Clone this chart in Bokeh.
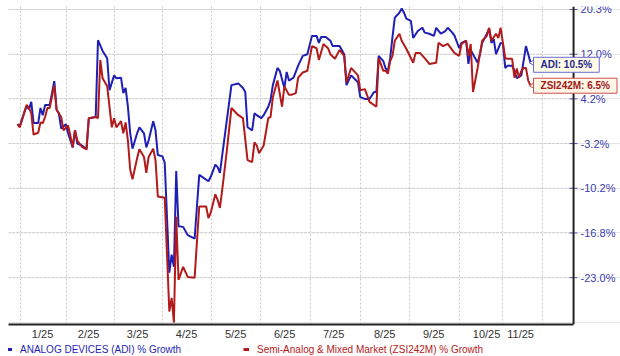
import numpy as np
from bokeh.plotting import figure
from bokeh.layouts import column
from bokeh.models import FixedTicker, Legend, LegendItem, Label, Range1d, Span
from bokeh.core.properties import value
from bokeh.embed import file_html
from bokeh.resources import INLINE

# ---- axis definitions -------------------------------------------------
tick_values = [-23.0, -16.8, -10.2, -3.2, 4.2, 12.0, 20.3]
tick_labels = ["-23.0%", "-16.8%", "-10.2%", "-3.2%", "4.2%", "12.0%", "20.3%"]
month_labels = ["1/25", "2/25", "3/25", "4/25", "5/25", "6/25", "7/25", "8/25", "9/25", "10/25", "11/25"]
month_label_pos = [10.9, 30.9, 52.2, 73.5, 94.8, 116.1, 137.4, 159.6, 180.9, 203.9, 218.7]
month_edges = [1.4, 21.3, 42.2, 63.0, 84.3, 105.7, 127.4, 149.1, 170.4, 192.2, 210.9, 228.3]
x_start, x_axis_end, x_view_end = -3.9, 241.7, 262.1

# ---- ANALOG DEVICES (ADI) % growth -------------------------------------
adi_day = ([0, 1, 3, 4, 5, 6, 7, 9, 10, 11, 12, 14, 15, 16, 17, 18, 19]
           + [21, 22, 24, 25, 26, 28, 30, 31, 34, 35, 37, 39, 40]
           + [42, 43, 45, 46, 47, 48, 49, 50, 52, 53, 55, 56, 57, 59, 60, 61]
           + [63, 64, 66, 67, 68, 69, 70, 72, 74, 77, 79, 83]
           + [84, 86, 87, 88, 89, 91, 93, 96, 98, 99, 100, 102, 103, 104]
           + [106, 107, 109, 110, 111, 113, 114, 116, 117, 118, 120, 122, 124, 126]
           + [128, 130, 131, 132, 134, 136, 137, 140, 142, 143, 145, 148]
           + [149, 151, 153, 155, 156, 157, 159, 160, 161, 162, 163, 164, 166, 167, 168, 169]
           + [171, 172, 174, 176, 177, 179, 181, 182, 184, 186, 187, 189, 190]
           + [192, 193, 195, 196, 197, 200, 201, 202, 204, 205, 206, 207, 208, 210]
           + [211, 212, 213, 215, 216, 217, 219, 221, 222, 223])
adi_pct = ([0.0, -0.3, 2.0, 3.0, 2.5, 3.7, 0.2, 0.2, 2.7, 1.5, 3.2, 3.2, 5.2, 7.3, 2.4, 1.8, -0.7]
           + [0.0, -1.5, -3.8, -1.0, -3.2, -3.5, -4.1, 1.0, 1.2, 14.6, 12.6, 11.3, 5.7]
           + [8.3, 7.8, 7.9, 5.2, 6.1, 2.9, -1.5, -4.0, -1.5, -0.5, -1.5, -3.8, -2.7, 0.5, -1.0, -5.0]
           + [-5.2, -6.2, -22.3, -19.8, -21.5, -7.5, -15.8, -15.9, -17.1, -17.6, -8.1, -9.1]
           + [-8.4, -6.5, -6.9, -7.8, -5.0, 0.7, 6.6, 6.9, 6.1, 5.4, -0.5, -1.0, 1.8, 1.5]
           + [1.0, 1.5, 2.9, 4.0, 6.6, 9.6, 9.1, 6.1, 8.9, 7.4, 7.9, 10.0, 11.7, 12.0]
           + [15.4, 15.4, 14.1, 15.2, 15.2, 14.5, 13.5, 13.5, 12.0, 6.6, 8.3, 7.1]
           + [4.5, 4.2, 4.2, 5.4, 5.4, 11.7, 10.8, 9.5, 9.1, 11.3, 15.2, 18.8, 19.7, 20.5, 19.7, 18.6]
           + [18.2, 15.0, 16.3, 16.9, 16.0, 15.8, 15.4, 16.9, 15.8, 16.3, 16.9, 16.0, 15.4]
           + [13.1, 14.1, 14.5, 10.3, 12.8, 10.5, 12.0, 14.1, 15.8, 16.7, 14.1, 14.8, 12.0, 14.1]
           + [13.9, 9.6, 10.0, 10.0, 9.1, 7.8, 8.3, 13.5, 12.0, 10.5])

# ---- Semi-Analog & Mixed Market (ZSI242M) % growth ----------------------
zsi_day = ([0, 1, 3, 4, 5, 6, 7, 9, 10, 11, 12, 13, 14, 16, 17, 19, 20]
           + [22, 23, 24, 25, 26, 28, 30, 31, 34, 35, 36, 37, 39, 41]
           + [42, 43, 45, 46, 47, 48, 49, 50, 52, 53, 55, 56, 57, 59, 60, 61]
           + [64, 66, 67, 68, 69, 70, 72, 74, 77, 79, 82, 83]
           + [84, 86, 87, 88, 89, 91, 93, 96, 98, 100, 102, 103, 104, 105]
           + [107, 109, 110, 111, 113, 115, 116, 118, 119, 121, 122, 124, 126]
           + [128, 130, 131, 133, 135, 136, 138, 140, 142, 143, 145, 148]
           + [149, 151, 153, 156, 157, 159, 160, 161, 162, 163, 164, 166, 167, 169]
           + [172, 173, 175, 177, 179, 182, 183, 185, 187, 190]
           + [192, 193, 195, 196, 197, 198, 200, 201, 202, 204, 205, 206, 208, 209, 210]
           + [212, 213, 215, 216, 217, 218, 219, 220, 221, 222, 223])
zsi_pct = ([0.0, -0.5, 2.0, 3.2, 2.7, 1.8, -1.7, -1.4, 0.3, 0.2, 1.2, 2.7, 2.7, 6.6, 2.4, 1.2, -1.0]
           + [-0.2, -1.9, -3.8, -1.0, -2.7, -3.7, -4.1, 1.0, 1.2, 1.0, 11.0, 7.8, 6.4, -0.5]
           + [1.0, -0.5, 0.5, -1.5, 0.3, -2.7, -7.3, -8.8, -5.5, -4.1, -5.3, -7.8, -5.3, -4.0, -5.8, -11.4]
           + [-11.6, -27.7, -25.8, -29.2, -14.4, -23.3, -21.5, -22.9, -23.0, -12.9, -12.9, -14.6]
           + [-13.8, -11.1, -11.9, -13.1, -10.4, -4.3, 2.7, 1.5, 1.0, -5.8, -6.1, -3.0, -3.5, -4.7]
           + [-3.5, 1.0, 1.2, 4.5, 7.4, 2.9, 6.4, 4.9, 4.9, 5.2, 7.9, 8.8, 9.1]
           + [13.5, 13.1, 11.0, 13.9, 13.1, 12.0, 11.2, 12.8, 11.7, 7.1, 9.6, 8.3]
           + [5.7, 5.9, 3.7, 2.9, 11.3, 9.1, 9.1, 8.6, 10.8, 11.7, 14.5, 15.8, 14.5, 13.0]
           + [10.5, 12.2, 12.2, 11.3, 10.3, 10.5, 14.1, 13.5, 13.9, 12.2]
           + [11.7, 13.9, 14.5, 11.7, 13.9, 5.4, 9.6, 12.0, 14.5, 15.4, 16.9, 14.5, 15.8, 15.0, 16.9]
           + [11.3, 11.2, 11.2, 7.9, 9.5, 7.9, 9.1, 9.6, 9.6, 7.4, 6.5])

assert len(adi_day) == len(adi_pct)
assert len(zsi_day) == len(zsi_pct)

BLUE = "#1f1fb4"
RED = "#b31b1b"
FONT = "Liberation Sans"
GRID = "#c8c8c8"

# the value axis has evenly spaced gridlines at the tick values: map the
# percentages piecewise-linearly onto the tick slots (edges extrapolated)
_tv = np.array(tick_values)
_knots_v = np.concatenate([[_tv[0] - 2 * (_tv[1] - _tv[0])], _tv, [_tv[-1] + 2 * (_tv[-1] - _tv[-2])]])
_knots_i = np.concatenate([[-2.0], np.arange(len(_tv), dtype=float), [len(_tv) + 1.0]])


def slot(v):
    return np.interp(np.asarray(v, dtype=float), _knots_v, _knots_i)


tick_slots = list(slot(tick_values))

p = figure(width=620, height=342, output_backend="svg", toolbar_location=None,
           x_range=Range1d(x_start, x_view_end), y_range=Range1d(-1.048, 6.067),
           y_axis_location=None,
           min_border_left=8, min_border_right=0, min_border_top=6, min_border_bottom=17)
p.outline_line_color = None
p.background_fill_color = "white"
p.border_fill_color = "white"

# x axis: month labels centred in each month, gridlines at month edges
xa = p.xaxis[0]
xa.ticker = FixedTicker(ticks=month_label_pos)
xa.major_label_overrides = {pos: lab for pos, lab in zip(month_label_pos, month_labels)}
xa.bounds = (x_start, x_axis_end)
xa.major_tick_line_color = None
xa.major_tick_out = 0
xa.minor_tick_line_color = None
xa.axis_line_color = "#222222"
xa.axis_line_width = 2
xa.major_label_text_font = FONT
xa.major_label_text_font_size = "11px"
xa.major_label_text_color = "#333333"
xa.major_label_standoff = 3
p.xgrid.ticker = FixedTicker(ticks=month_edges)
p.xgrid.grid_line_color = GRID
p.xgrid.grid_line_dash = "2 2"

# horizontal gridlines, stopping at the value axis
p.segment(x0=x_start, x1=x_axis_end, y0=tick_slots, y1=tick_slots,
          line_color=GRID, line_dash="2 2", line_width=1)

# value axis on the right of the plotting area
p.add_layout(Span(location=x_axis_end, dimension="height", line_color="#222222", line_width=2))
p.scatter(x=[x_axis_end] * len(tick_slots), y=tick_slots, marker="dash", size=8,
          line_color="#5555aa", line_width=1)
p.text(x=[x_axis_end] * len(tick_slots), y=tick_slots, text=tick_labels, x_offset=7,
       text_align="left", text_baseline="middle", text_font=value(FONT),
       text_font_size="11px", text_color="#3b3bb0")

r_adi = p.line(adi_day, slot(adi_pct), line_color=BLUE, line_width=2)
r_zsi = p.line(zsi_day, slot(zsi_pct), line_color=RED, line_width=2)

# end-of-line callouts
callouts = [
    (adi_day[-1], adi_pct[-1], f"ADI: {adi_pct[-1]:.1f}%", "#26268c", "#6a6ad0", "#fffde8", -2),
    (zsi_day[-1], zsi_pct[-1], f"ZSI242M: {zsi_pct[-1]:.1f}%", "#a01818", "#cc5050", "#fff6e6", 0),
]
for d, v, txt, tc, bc, fc, yo in callouts:
    p.scatter([d + 2.2], [float(slot(v))], marker="triangle", angle=np.pi / 2, size=11,
              fill_color=fc, line_color=bc, line_width=1)
    p.add_layout(Label(x=d, y=float(slot(v)), x_offset=3, y_offset=yo, text=txt,
                       text_align="left", text_baseline="middle",
                       text_font=FONT, text_font_size="10px", text_font_style="bold",
                       text_color=tc, background_fill_color=fc, border_line_color=bc,
                       border_line_width=1, padding=(7, 2)))

# legend strip below the chart, each entry in its own colour
leg = figure(width=620, height=14, output_backend="svg", toolbar_location=None,
             x_range=Range1d(0, 1), y_range=Range1d(0, 1),
             x_axis_location=None, y_axis_location=None,
             min_border_left=0, min_border_right=0, min_border_top=0, min_border_bottom=0)
leg.outline_line_color = None
leg.xgrid.visible = False
leg.ygrid.visible = False
for lab, col, xoff in [("ANALOG DEVICES (ADI) % Growth", BLUE, -2),
                       ("Semi-Analog & Mixed Market (ZSI242M) % Growth", RED, 235)]:
    key = leg.line([-2, -1], [-2, -1], line_color=col, line_width=3)
    lg = Legend(items=[LegendItem(label=lab, renderers=[key])], location=(xoff, 0),
                orientation="horizontal", background_fill_alpha=0, border_line_color=None,
                padding=0, margin=0, spacing=0, glyph_width=6, glyph_height=14,
                label_height=14, label_standoff=8, label_text_font=FONT,
                label_text_font_size="10px", label_text_color=col)
    leg.add_layout(lg)

layout = column(p, leg, spacing=0)
open("out.html", "w").write(file_html(layout, INLINE))
